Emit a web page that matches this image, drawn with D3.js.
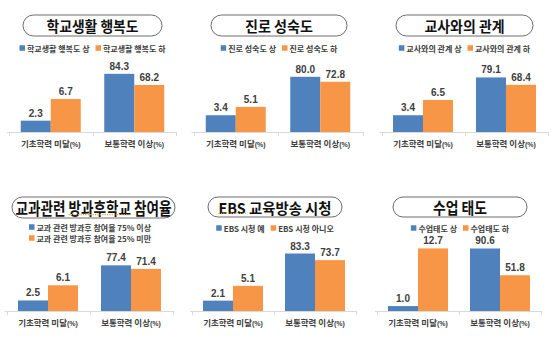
<!DOCTYPE html>
<html>
<head>
<meta charset="utf-8">
<script src="https://cdn.jsdelivr.net/npm/d3@7"></script>
<style>
  body { margin: 0; background: #fff; }
  svg { display: block; }
</style>
</head>
<body>
<svg id="chart"></svg>
<script>
const categories = ["기초학력 미달", "보통학력 이상"];
const titles = ["학교생활 행복도", "진로 성숙도", "교사와의 관계", "교과관련 방과후학교 참여율", "EBS 교육방송 시청", "수업 태도"];
const legendHigh = ["학교생활 행복도 상", "진로 성숙도 상", "교사와의 관계 상", "교과 관련 방과후 참여율 75% 이상", "EBS 시청 예", "수업태도 상"];
const legendLow = ["학교생활 행복도 하", "진로 성숙도 하", "교사와의 관계 하", "교과 관련 방과후 참여율 25% 미만", "EBS 시청 아니오", "수업태도 하"];
const valuesHigh = [[2.3, 84.3], [3.4, 80.0], [3.4, 79.1], [2.5, 77.4], [2.1, 83.3], [1.0, 90.6]];
const valuesLow = [[6.7, 68.2], [5.1, 72.8], [6.5, 68.4], [6.1, 71.4], [5.1, 73.7], [12.7, 51.8]];
// each category has its own value axis
const categoryMax = [14, 100];

const width = 556, height = 344;
const colors = ["#4f81bd", "#f79646"];
const kr = "'Noto Sans CJK KR', 'Noto Sans', sans-serif";
const num = "'Liberation Sans', Arial, sans-serif";

// where each small chart sits
const layout = [
  {cx: 92.5, x0: 9,     bw: 83.5, base: 132, plotH: 69, boxY: 15,  boxW: 139, boxH: 21, titleW: 92,  titleSize: 14.5, legendY: 48},
  {cx: 279,  x0: 193.5, bw: 84.5, base: 132, plotH: 69, boxY: 15,  boxW: 136, boxH: 21, titleW: 68,  titleSize: 14.5, legendY: 48},
  {cx: 464.5,x0: 381.5, bw: 83,   base: 132, plotH: 69, boxY: 15,  boxW: 137, boxH: 21, titleW: 80,  titleSize: 14.5, legendY: 48},
  {cx: 93.5, x0: 6.5,   bw: 83,   base: 311, plotH: 59, boxY: 197, boxW: 163, boxH: 21, titleW: 156, titleSize: 17,   legendY: 227, stacked: true, legendX: 29, squiggle: [5, 9]},
  {cx: 275,  x0: 192,   bw: 82,   base: 311, plotH: 69, boxY: 197, boxW: 134, boxH: 20, titleW: 113, titleSize: 15,   legendY: 228, squiggle: [0, 2]},
  {cx: 460,  x0: 377,   bw: 82,   base: 311, plotH: 69, boxY: 197, boxW: 134, boxH: 20, titleW: 54,  titleSize: 16,   legendY: 228}
];

const svg = d3.select("#chart").attr("width", width).attr("height", height);

titles.forEach((title, p) => {
  const L = layout[p];
  const g = svg.append("g");

  // rounded title box
  g.append("rect")
    .attr("x", L.cx - L.boxW / 2).attr("y", L.boxY)
    .attr("width", L.boxW).attr("height", L.boxH)
    .attr("rx", L.boxH / 2).attr("ry", L.boxH / 2)
    .attr("fill", "#fff").attr("stroke", "#6d6d6d").attr("stroke-width", 1);

  const t = g.append("text")
    .attr("x", L.cx).attr("y", L.boxY + L.boxH / 2)
    .attr("text-anchor", "middle").attr("dominant-baseline", "central")
    .attr("font-family", kr).attr("font-weight", "bold")
    .attr("font-size", L.titleSize).attr("fill", "#111")
    .attr("textLength", L.titleW).attr("lengthAdjust", "spacingAndGlyphs")
    .text(title);

  // spell-check underline under some words
  if (L.squiggle) {
    const n = t.node();
    const a = n.getStartPositionOfChar(L.squiggle[0]).x;
    const b = n.getEndPositionOfChar(L.squiggle[1]).x;
    g.append("line")
      .attr("x1", a).attr("x2", b)
      .attr("y1", L.boxY + L.boxH / 2 + L.titleSize * 0.42)
      .attr("y2", L.boxY + L.boxH / 2 + L.titleSize * 0.42)
      .attr("stroke", "#f0a040").attr("stroke-width", 1.2)
      .attr("stroke-dasharray", "1.2,1.2");
  }

  // legend
  const names = [legendHigh[p], legendLow[p]];
  const leg = g.append("g").attr("font-family", kr).attr("font-weight", "bold")
    .attr("font-size", 8).attr("fill", "#404040");
  const items = names.map((name, i) => {
    const it = leg.append("g");
    it.append("rect").attr("width", 5.5).attr("height", 5.5).attr("y", -2.75).attr("fill", colors[i]);
    const tx = it.append("text").attr("x", 7.5).attr("y", 0)
      .attr("dominant-baseline", "central").text(name);
    return {it, w: 7.5 + tx.node().getComputedTextLength()};
  });
  if (L.stacked) {
    items.forEach((d, i) => d.it.attr("transform", `translate(${L.legendX},${L.legendY + i * 11})`));
  } else {
    const gap = 6;
    const total = items[0].w + gap + items[1].w;
    let xx = L.cx - total / 2;
    items.forEach(d => {
      d.it.attr("transform", `translate(${xx},${L.legendY})`);
      xx += d.w + gap;
    });
  }

  // category bands and bars
  const x0 = d3.scaleBand().domain(categories).range([L.x0, L.x0 + 2 * L.bw]);
  const x1 = d3.scaleBand().domain([0, 1]).range([(L.bw - 60) / 2, (L.bw + 60) / 2]);
  const yScales = categoryMax.map(m => d3.scaleLinear().domain([0, m]).range([L.base, L.base - L.plotH]));

  const rows = categories.map((c, ci) => ({c, ci, vals: [valuesHigh[p][ci], valuesLow[p][ci]]}));

  // axis line with ticks at band edges
  g.append("line")
    .attr("x1", x0.range()[0] - 2).attr("x2", x0.range()[1] + 1)
    .attr("y1", L.base + 0.5).attr("y2", L.base + 0.5)
    .attr("stroke", "#d9d9d9");
  g.selectAll(".tk").data(categories.map(c => x0(c)).concat([x0.range()[1]]))
    .join("line")
    .attr("x1", d => Math.round(d) + 0.5).attr("x2", d => Math.round(d) + 0.5)
    .attr("y1", L.base).attr("y2", L.base + 4)
    .attr("stroke", "#d9d9d9");

  const grp = g.selectAll(".grp").data(rows).join("g")
    .attr("transform", d => `translate(${x0(d.c)},0)`);

  grp.selectAll("rect").data(d => d.vals.map((v, i) => ({v, i, y: yScales[d.ci]})))
    .join("rect")
    .attr("x", d => x1(d.i)).attr("width", x1.bandwidth())
    .attr("y", d => d.y(d.v)).attr("height", d => L.base - d.y(d.v))
    .attr("fill", d => colors[d.i]);

  grp.selectAll(".val").data(d => d.vals.map((v, i) => ({v, i, y: yScales[d.ci]})))
    .join("text")
    .attr("x", d => x1(d.i) + x1.bandwidth() / 2)
    .attr("y", d => d.y(d.v) - 4)
    .attr("text-anchor", "middle")
    .attr("font-family", num).attr("font-weight", "bold").attr("font-size", 10)
    .attr("fill", "#404040")
    .text(d => d3.format(".1f")(d.v));

  // category labels
  const lab = g.selectAll(".cat").data(categories).join("text")
    .attr("x", d => x0(d) + x0.bandwidth() / 2)
    .attr("y", L.base + 15)
    .attr("text-anchor", "middle")
    .attr("font-family", kr).attr("font-size", 8.5).attr("font-weight", "bold")
    .attr("fill", "#404040");
  lab.append("tspan").text(d => d);
  lab.append("tspan").attr("font-size", 7).attr("font-family", num).text("(%)");
});
</script>
</body>
</html>
